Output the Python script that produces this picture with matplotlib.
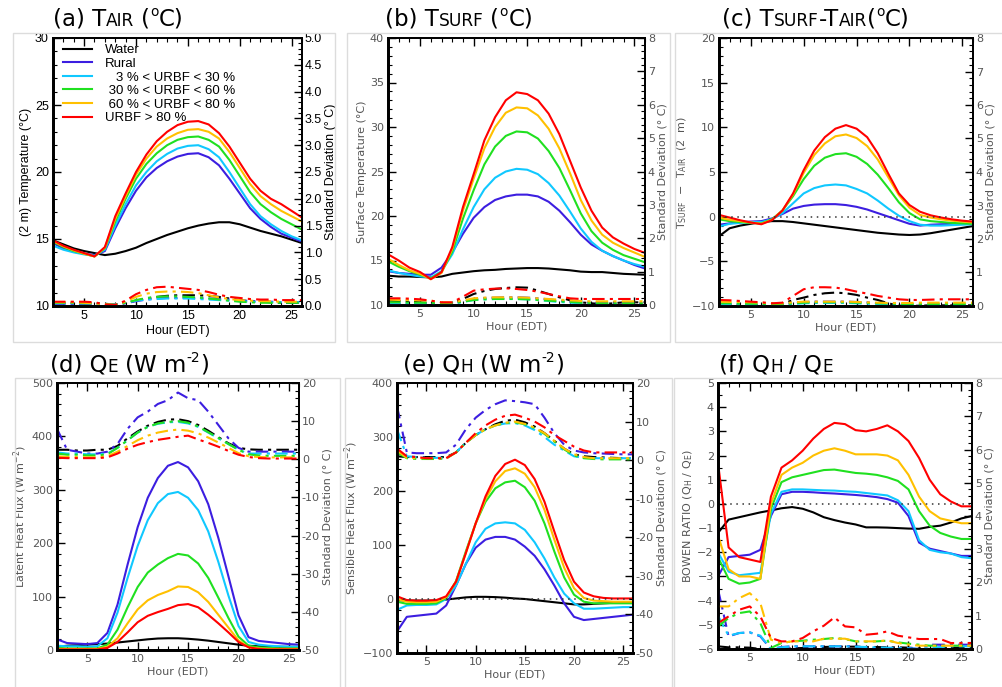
import matplotlib
matplotlib.use("Agg")
import matplotlib.pyplot as plt
from matplotlib.patches import Rectangle
from matplotlib.ticker import MultipleLocator

hours = list(range(2, 27))

# (a) 2 m air temperature: means and standard deviations
tair_water = [14.9, 14.6, 14.3, 14.1, 13.95, 13.8, 13.9, 14.1, 14.35, 14.7, 15.0, 15.3, 15.55, 15.8, 16.0, 16.15, 16.25, 16.25, 16.1, 15.85, 15.6, 15.4, 15.2, 14.95, 14.7]
tair_rural = [14.7, 14.3, 14.05, 13.9, 13.8, 14.1, 15.8, 17.3, 18.6, 19.6, 20.3, 20.8, 21.15, 21.35, 21.4, 21.1, 20.5, 19.5, 18.4, 17.3, 16.5, 15.9, 15.4, 15.1, 14.8]
tair_u1 = [14.5, 14.2, 14.0, 13.85, 13.75, 14.2, 16.0, 17.6, 19.0, 20.0, 20.8, 21.35, 21.75, 21.95, 22.0, 21.7, 21.1, 20.0, 18.8, 17.6, 16.7, 16.1, 15.6, 15.2, 14.9]
tair_u2 = [14.8, 14.4, 14.1, 13.9, 13.7, 14.3, 16.3, 18.0, 19.5, 20.6, 21.4, 22.0, 22.4, 22.6, 22.65, 22.4, 21.9, 20.9, 19.7, 18.5, 17.6, 17.0, 16.5, 16.1, 15.7]
tair_u3 = [14.85, 14.45, 14.15, 13.9, 13.7, 14.35, 16.5, 18.2, 19.8, 21.0, 21.9, 22.5, 22.9, 23.15, 23.2, 23.0, 22.5, 21.5, 20.3, 19.1, 18.2, 17.6, 17.1, 16.7, 16.3]
tair_u4 = [14.9, 14.5, 14.2, 13.95, 13.7, 14.4, 16.7, 18.4, 20.0, 21.3, 22.3, 23.0, 23.5, 23.75, 23.8, 23.55, 22.9, 21.9, 20.7, 19.5, 18.6, 18.0, 17.6, 17.1, 16.6]
tair_sd_water = [0.05, 0.05, 0.05, 0.05, 0.05, 0.04, 0.03, 0.06, 0.1, 0.14, 0.17, 0.19, 0.2, 0.2, 0.2, 0.19, 0.17, 0.14, 0.11, 0.09, 0.08, 0.07, 0.06, 0.06, 0.06]
tair_sd_rural = [0.04, 0.04, 0.04, 0.04, 0.04, 0.03, 0.02, 0.05, 0.09, 0.12, 0.14, 0.15, 0.15, 0.15, 0.15, 0.14, 0.13, 0.12, 0.1, 0.09, 0.08, 0.08, 0.07, 0.07, 0.07]
tair_sd_u1 = [0.05, 0.05, 0.05, 0.05, 0.05, 0.04, 0.03, 0.06, 0.1, 0.12, 0.13, 0.14, 0.14, 0.14, 0.13, 0.12, 0.11, 0.1, 0.09, 0.08, 0.08, 0.07, 0.07, 0.07, 0.07]
tair_sd_u2 = [0.06, 0.06, 0.06, 0.05, 0.05, 0.04, 0.02, 0.06, 0.11, 0.15, 0.17, 0.18, 0.18, 0.17, 0.16, 0.14, 0.12, 0.1, 0.08, 0.07, 0.06, 0.06, 0.06, 0.06, 0.06]
tair_sd_u3 = [0.07, 0.07, 0.07, 0.06, 0.05, 0.03, 0.02, 0.08, 0.17, 0.23, 0.26, 0.27, 0.27, 0.26, 0.24, 0.2, 0.16, 0.13, 0.11, 0.1, 0.09, 0.09, 0.08, 0.08, 0.08]
tair_sd_u4 = [0.08, 0.08, 0.08, 0.08, 0.07, 0.03, 0.02, 0.1, 0.22, 0.3, 0.35, 0.36, 0.34, 0.32, 0.3, 0.26, 0.21, 0.17, 0.15, 0.13, 0.12, 0.12, 0.11, 0.11, 0.11]

# (b) surface temperature
tsurf_water = [13.3, 13.2, 13.2, 13.15, 13.1, 13.2, 13.5, 13.65, 13.8, 13.9, 13.95, 14.05, 14.1, 14.15, 14.15, 14.1, 14.0, 13.9, 13.75, 13.7, 13.7, 13.6, 13.5, 13.45, 13.4]
tsurf_rural = [13.8, 13.6, 13.5, 13.4, 13.4, 14.2, 15.9, 18.0, 19.8, 21.0, 21.8, 22.2, 22.4, 22.4, 22.2, 21.6, 20.6, 19.3, 17.9, 16.8, 16.1, 15.5, 15.0, 14.5, 14.1]
tsurf_u1 = [13.9, 13.6, 13.4, 13.2, 13.1, 13.8, 15.7, 18.5, 21.0, 23.0, 24.3, 25.0, 25.3, 25.2, 24.7, 23.7, 22.3, 20.5, 18.6, 17.1, 16.1, 15.5, 15.0, 14.6, 14.3]
tsurf_u2 = [14.9, 14.3, 13.8, 13.4, 13.0, 13.7, 16.0, 19.7, 22.9, 25.8, 27.8, 29.0, 29.5, 29.4, 28.7, 27.3, 25.4, 22.9, 20.3, 18.3, 17.0, 16.2, 15.6, 15.2, 14.8]
tsurf_u3 = [15.2, 14.5, 13.9, 13.5, 12.9, 13.6, 16.3, 20.6, 24.2, 27.6, 30.0, 31.6, 32.2, 32.1, 31.3, 29.8, 27.6, 24.8, 21.8, 19.5, 17.9, 17.0, 16.4, 15.9, 15.4]
tsurf_u4 = [15.7, 15.0, 14.2, 13.7, 12.9, 13.7, 16.5, 21.0, 24.7, 28.5, 31.1, 33.0, 33.9, 33.7, 33.0, 31.5, 29.2, 26.2, 23.2, 20.6, 18.7, 17.6, 16.9, 16.3, 15.85]
tsurf_sd_water = [0.13, 0.12, 0.1, 0.08, 0.06, 0.03, 0.05, 0.18, 0.33, 0.42, 0.48, 0.51, 0.53, 0.52, 0.43, 0.33, 0.23, 0.14, 0.08, 0.05, 0.03, 0.05, 0.08, 0.08, 0.08]
tsurf_sd_rural = [0.03, 0.03, 0.03, 0.03, 0.03, 0.02, 0.04, 0.1, 0.18, 0.21, 0.22, 0.23, 0.23, 0.22, 0.2, 0.17, 0.13, 0.1, 0.08, 0.07, 0.06, 0.06, 0.05, 0.05, 0.05]
tsurf_sd_u1 = [0.05, 0.05, 0.05, 0.04, 0.04, 0.03, 0.04, 0.09, 0.15, 0.17, 0.18, 0.18, 0.18, 0.17, 0.15, 0.12, 0.09, 0.07, 0.05, 0.04, 0.03, 0.02, 0.02, 0.01, 0.01]
tsurf_sd_u2 = [0.08, 0.08, 0.07, 0.07, 0.06, 0.04, 0.05, 0.1, 0.15, 0.17, 0.18, 0.18, 0.18, 0.17, 0.15, 0.13, 0.11, 0.09, 0.07, 0.06, 0.05, 0.05, 0.05, 0.05, 0.05]
tsurf_sd_u3 = [0.16, 0.15, 0.15, 0.14, 0.13, 0.08, 0.08, 0.14, 0.2, 0.22, 0.23, 0.23, 0.23, 0.22, 0.2, 0.18, 0.16, 0.14, 0.12, 0.11, 0.11, 0.11, 0.11, 0.11, 0.11]
tsurf_sd_u4 = [0.2, 0.2, 0.19, 0.17, 0.13, 0.08, 0.08, 0.25, 0.43, 0.47, 0.49, 0.5, 0.48, 0.45, 0.4, 0.33, 0.26, 0.2, 0.18, 0.18, 0.18, 0.18, 0.18, 0.18, 0.18]

# (c) Tsurf - Tair
dts_water = [-2.2, -1.3, -1.0, -0.8, -0.6, -0.5, -0.5, -0.6, -0.75, -0.9, -1.05, -1.2, -1.35, -1.5, -1.65, -1.8, -1.9, -2.0, -2.05, -2.0, -1.85, -1.65, -1.45, -1.25, -1.05]
dts_rural = [-0.9, -0.75, -0.6, -0.55, -0.5, -0.2, 0.3, 0.9, 1.2, 1.35, 1.4, 1.4, 1.3, 1.1, 0.8, 0.4, 0.0, -0.4, -0.8, -1.0, -0.9, -0.85, -0.8, -0.8, -0.8]
dts_u1 = [-1.1, -0.8, -0.7, -0.6, -0.6, -0.3, 0.4, 1.5, 2.6, 3.2, 3.5, 3.6, 3.5, 3.1, 2.6, 1.8, 0.9, 0.1, -0.5, -0.9, -1.0, -1.0, -0.95, -0.9, -0.85]
dts_u2 = [-0.3, -0.5, -0.6, -0.7, -0.75, -0.3, 0.7, 2.3, 4.2, 5.7, 6.6, 7.0, 7.1, 6.7, 5.9, 4.7, 3.2, 1.6, 0.4, -0.3, -0.5, -0.6, -0.7, -0.75, -0.8]
dts_u3 = [-0.1, -0.35, -0.5, -0.65, -0.8, -0.35, 0.7, 2.5, 4.9, 6.9, 8.2, 9.0, 9.2, 8.8, 7.9, 6.4, 4.4, 2.4, 1.0, 0.2, -0.1, -0.3, -0.45, -0.55, -0.65]
dts_u4 = [0.2, -0.1, -0.4, -0.65, -0.85, -0.4, 0.7, 2.6, 5.2, 7.4, 8.9, 9.85, 10.25, 9.85, 8.9, 7.1, 4.8, 2.6, 1.3, 0.55, 0.15, -0.1, -0.3, -0.45, -0.55]
dts_sd_water = [0.05, 0.05, 0.04, 0.04, 0.03, 0.03, 0.06, 0.18, 0.25, 0.33, 0.38, 0.4, 0.38, 0.33, 0.25, 0.18, 0.08, 0.01, 0.0, 0.01, 0.02, 0.02, 0.02, 0.02, 0.02]
dts_sd_rural = [0.0, 0.0, 0.0, 0.0, 0.0, 0.0, 0.02, 0.08, 0.12, 0.13, 0.13, 0.13, 0.13, 0.12, 0.11, 0.08, 0.05, 0.02, 0.01, 0.0, 0.0, 0.0, 0.0, 0.0, 0.0]
dts_sd_u1 = [0.05, 0.05, 0.04, 0.04, 0.04, 0.03, 0.03, 0.06, 0.08, 0.09, 0.09, 0.09, 0.09, 0.08, 0.07, 0.06, 0.05, 0.04, 0.04, 0.04, 0.03, 0.03, 0.03, 0.03, 0.03]
dts_sd_u2 = [0.08, 0.08, 0.07, 0.07, 0.06, 0.05, 0.05, 0.08, 0.1, 0.11, 0.11, 0.11, 0.11, 0.1, 0.09, 0.08, 0.07, 0.06, 0.06, 0.06, 0.06, 0.06, 0.06, 0.06, 0.06]
dts_sd_u3 = [0.13, 0.12, 0.12, 0.11, 0.1, 0.08, 0.08, 0.11, 0.13, 0.13, 0.13, 0.13, 0.13, 0.12, 0.11, 0.1, 0.09, 0.09, 0.09, 0.1, 0.1, 0.1, 0.1, 0.1, 0.1]
dts_sd_u4 = [0.18, 0.17, 0.15, 0.13, 0.11, 0.08, 0.1, 0.3, 0.5, 0.56, 0.56, 0.55, 0.5, 0.43, 0.37, 0.3, 0.25, 0.2, 0.18, 0.18, 0.19, 0.2, 0.2, 0.2, 0.2]

# (d) latent heat flux
qe_water = [6, 8, 9, 10, 11, 12, 14, 16, 18, 20, 21.5, 22, 22, 21, 19.5, 17.5, 15, 12.5, 10, 8, 7, 6, 6, 6, 6]
qe_rural = [20, 13, 12, 11, 13, 32, 85, 160, 230, 285, 322, 345, 352, 342, 316, 273, 210, 138, 65, 24, 17, 15, 13, 11, 10]
qe_u1 = [8, 7, 7, 6, 7, 22, 70, 135, 195, 243, 275, 292, 296, 285, 262, 222, 165, 102, 45, 15, 10, 8, 7, 6, 6]
qe_u2 = [4, 3, 3, 3, 3, 10, 38, 80, 118, 145, 160, 172, 180, 177, 162, 135, 98, 60, 25, 8, 5, 4, 3, 3, 3]
qe_u3 = [2, 2, 2, 2, 2, 6, 22, 50, 76, 93, 103, 110, 119, 118, 108, 90, 66, 42, 18, 5, 3, 2, 2, 2, 2]
qe_u4 = [1, 1, 1, 1, 1, 4, 15, 33, 52, 64, 71, 77, 84, 86, 80, 66, 50, 33, 15, 5, 2, 1, 1, 1, 1]
qe_sd_water = [2.5, 2.5, 2.3, 2.3, 2.5, 2.5, 3.5, 5.5, 7.3, 8.8, 9.8, 10.4, 10.5, 10.0, 9.0, 7.5, 5.8, 4.2, 3.0, 2.6, 2.5, 2.5, 2.5, 2.5, 2.5]
qe_sd_rural = [8, 2.5, 2, 1.5, 1.5, 2, 4, 8, 11, 12.5, 14.5, 15.5, 17.5, 16, 15.5, 12.5, 9, 5.5, 3, 2, 2, 2, 2, 2, 2]
qe_sd_u1 = [1.8, 1.5, 1.5, 1.3, 1.3, 1.5, 3, 5, 7, 8.5, 9.3, 9.7, 9.8, 9.4, 8.5, 7, 5.5, 4, 2.5, 1.5, 1.5, 1.5, 1.5, 1.5, 1.5]
qe_sd_u2 = [1.5, 1.2, 1.2, 1.0, 1.0, 1.3, 3, 5, 7, 8.5, 9.4, 9.8, 10, 9.6, 8.6, 7.1, 5.6, 4, 2.5, 1.3, 1.0, 0.9, 0.9, 0.9, 0.9]
qe_sd_u3 = [0.8, 0.6, 0.6, 0.5, 0.5, 0.8, 2, 3.5, 5, 6.2, 7, 7.5, 7.8, 7.5, 6.8, 5.7, 4.4, 3, 1.6, 0.8, 0.6, 0.5, 0.5, 0.5, 0.5]
qe_sd_u4 = [0.4, 0.3, 0.3, 0.3, 0.3, 0.5, 1.5, 2.8, 3.8, 4.5, 5.1, 5.5, 5.9, 6.2, 5.2, 4.3, 3.3, 2.2, 1.2, 0.6, 0.3, 0.2, 0.2, 0.2, 0.2]

# (e) sensible heat flux
qh_water = [-2, -3, -3, -3, -3, -1, 1, 3, 4, 4, 3.5, 2.5, 1, 0, -2, -4, -6, -8, -10, -10, -9, -8, -7, -7, -6]
qh_rural = [-60, -33, -31, -29, -27, -12, 25, 65, 95, 110, 115, 115, 110, 97, 80, 55, 25, -8, -33, -39, -37, -35, -33, -31, -29]
qh_u1 = [-20, -12, -11, -11, -10, 0, 25, 65, 105, 130, 140, 142, 140, 128, 105, 75, 40, 10, -8, -18, -18, -17, -16, -15, -15]
qh_u2 = [-5, -9, -9, -9, -8, 2, 33, 88, 140, 180, 205, 216, 219, 207, 182, 140, 88, 40, 8, -5, -8, -8, -8, -8, -8]
qh_u3 = [0, -5, -6, -6, -5, 3, 32, 85, 140, 185, 218, 237, 242, 232, 207, 165, 110, 58, 20, 2, -3, -4, -5, -5, -5]
qh_u4 = [5, -2, -3, -3, -2, 5, 32, 85, 140, 190, 228, 250, 258, 248, 222, 180, 125, 72, 32, 12, 5, 2, 1, 1, 1]
qh_sd_water = [1.0, 0.8, 0.8, 0.8, 0.8, 0.8, 2, 4.5, 6.5, 8, 9.3, 10.2, 10.5, 9.8, 8.7, 7, 5, 3, 1.5, 1, 0.8, 0.7, 0.6, 0.5, 0.5]
qh_sd_rural = [14, 2, 1.8, 1.8, 1.8, 2, 4, 8, 11, 13, 14.5, 15.5, 15.3, 15, 14.5, 11, 7, 4, 2.5, 2, 1.8, 1.7, 1.6, 1.5, 1.5]
qh_sd_u1 = [8, 1, 0.8, 0.6, 0.6, 0.6, 2, 4.5, 6.5, 8, 9, 9.5, 9.6, 9, 7.8, 6, 4, 2.5, 1.0, 0.6, 0.5, 0.5, 0.5, 0.5, 0.5]
qh_sd_u2 = [2, 0.5, 0.3, 0.3, 0.3, 0.4, 2, 4.5, 6.5, 8, 9, 9.6, 9.8, 9.3, 8.3, 6.8, 4.8, 2.8, 1.2, 0.5, 0.3, 0.2, 0.2, 0.2, 0.2]
qh_sd_u3 = [2.5, 0.6, 0.5, 0.5, 0.5, 0.5, 2, 4.5, 6.5, 8, 9, 9.7, 10, 9.4, 8.4, 7, 5, 3, 1.5, 0.8, 0.5, 0.5, 0.5, 0.5, 0.5]
qh_sd_u4 = [3, 1, 0.8, 0.5, 0.5, 0.5, 2, 4.5, 7, 9, 10.5, 11.5, 11.8, 11, 10, 8.5, 6.5, 5, 3.5, 2.5, 2, 2, 2, 2, 2]

# (f) Bowen ratio
br_water = [-1.2, -0.65, -0.55, -0.45, -0.35, -0.27, -0.18, -0.13, -0.2, -0.35, -0.55, -0.67, -0.77, -0.85, -0.97, -0.97, -0.98, -1.0, -1.02, -1.03, -0.95, -0.9, -0.77, -0.6, -0.5]
br_rural = [-3.0, -2.2, -2.15, -2.1, -1.9, -0.5, 0.4, 0.5, 0.5, 0.48, 0.45, 0.43, 0.4, 0.37, 0.33, 0.28, 0.2, 0.05, -0.5, -1.6, -1.85, -1.95, -2.05, -2.15, -2.15]
br_u1 = [-2.0, -2.8, -2.95, -2.9, -2.85, -0.4, 0.5, 0.6, 0.6, 0.58, 0.56, 0.55, 0.52, 0.5, 0.45, 0.4, 0.35, 0.15, -0.3, -1.5, -1.9, -2.0, -2.05, -2.2, -2.25]
br_u2 = [-2.2, -3.1, -3.3, -3.25, -3.1, -0.2, 0.9, 1.1, 1.2, 1.3, 1.4, 1.42, 1.35, 1.28, 1.25, 1.2, 1.1, 0.95, 0.6, -0.3, -0.9, -1.2, -1.35, -1.45, -1.45]
br_u3 = [-1.3, -2.7, -3.0, -3.0, -3.1, 0.0, 1.2, 1.5, 1.7, 2.0, 2.2, 2.3, 2.2, 2.05, 2.05, 2.05, 2.0, 1.8, 1.2, 0.3, -0.3, -0.6, -0.7, -0.8, -0.8]
br_u4 = [1.7, -1.8, -2.2, -2.3, -2.4, 0.3, 1.5, 1.8, 2.2, 2.7, 3.1, 3.35, 3.3, 3.05, 3.0, 3.1, 3.25, 3.0, 2.6, 1.9, 1.0, 0.4, 0.1, -0.1, -0.1]
br_sd_water = [0.08, 0.05, 0.05, 0.04, 0.0, 0.0, 0.0, 0.02, 0.03, 0.05, 0.06, 0.07, 0.07, 0.07, 0.06, 0.06, 0.05, 0.05, 0.04, 0.02, 0.0, 0.02, 0.04, 0.04, 0.04]
br_sd_rural = [1.8, 0.38, 0.48, 0.5, 0.38, 0.0, 0.06, 0.08, 0.08, 0.08, 0.08, 0.08, 0.08, 0.08, 0.03, 0.03, 0.03, 0.03, 0.03, 0.0, 0.13, 0.13, 0.13, 0.13, 0.13]
br_sd_u1 = [1.0, 0.4, 0.48, 0.5, 0.4, 0.0, 0.05, 0.08, 0.08, 0.08, 0.08, 0.08, 0.08, 0.07, 0.06, 0.05, 0.04, 0.03, 0.02, 0.0, 0.03, 0.06, 0.08, 0.08, 0.08]
br_sd_u2 = [0.68, 0.93, 1.08, 1.13, 0.78, 0.03, 0.18, 0.23, 0.25, 0.28, 0.3, 0.33, 0.3, 0.23, 0.22, 0.23, 0.25, 0.2, 0.16, 0.13, 0.1, 0.1, 0.1, 0.1, 0.1]
br_sd_u3 = [1.28, 1.28, 1.53, 1.68, 1.38, 0.28, 0.18, 0.23, 0.23, 0.23, 0.31, 0.31, 0.31, 0.23, 0.23, 0.23, 0.26, 0.18, 0.13, 0.1, 0.1, 0.1, 0.1, 0.1, 0.1]
br_sd_u4 = [0.78, 0.98, 1.18, 1.28, 0.98, 0.33, 0.23, 0.23, 0.33, 0.53, 0.7, 0.95, 0.68, 0.65, 0.43, 0.46, 0.53, 0.4, 0.35, 0.3, 0.3, 0.3, 0.18, 0.18, 0.18]

colors = ["#000000", "#3c1ee0", "#10c8ff", "#20e020", "#ffc000", "#ff0000"]
labels = ["Water", "Rural", "   3 % < URBF < 30 %", " 30 % < URBF < 60 %",
          " 60 % < URBF < 80 %", "URBF > 80 %"]

W, H = 1003, 687
fig = plt.figure(figsize=(W / 100, H / 100), dpi=100)
plt.rcParams["mathtext.fontset"] = "dejavusans"


def frac(l, t, r, b):
    return [l / W, 1 - b / H, (r - l) / W, (b - t) / H]


# light grey frames around each panel
for l, t, r, b in [(13, 33, 335, 342), (347, 33, 670, 342), (675, 33, 1003, 342),
                   (15, 378, 340, 700), (345, 378, 672, 700), (674, 378, 1003, 700)]:
    fig.add_artist(Rectangle((l / W, 1 - b / H), (r - l) / W, (b - t) / H,
                             transform=fig.transFigure, fill=False,
                             ec="#dcdcdc", lw=1.0))


def draw_title(x, y, parts, size=16.5):
    rend = fig.canvas.get_renderer()
    for txt, scale, rise, gap in parts:
        t = fig.text(x / W, 1 - (y - rise * size * 100 / 72) / H, txt,
                     fontsize=size * scale, family="DejaVu Sans",
                     ha="left", va="baseline")
        x += t.get_window_extent(rend).width + gap * size * 100 / 72


sc = 0.74
panels = [
    dict(pos=frac(53, 38, 302, 306), mean=[tair_water, tair_rural, tair_u1, tair_u2, tair_u3, tair_u4],
         sd=[tair_sd_water, tair_sd_rural, tair_sd_u1, tair_sd_u2, tair_sd_u3, tair_sd_u4],
         ylim=(10, 30), ymaj=5, ymin=1, y2lim=(0, 5), y2maj=0.5, y2min=0.1, y2fmt="%.1f",
         ylabel="(2 m) Temperature (°C)", zero=False,
         title=(53, 26, [("(a) T", 1, 0, 0), ("AIR", sc, 0, 0.3), ("(", 1, 0, 0),
                         ("o", 0.6, 0.45, 0.02), ("C)", 1, 0, 0)])),
    dict(pos=frac(388, 38, 645, 305), mean=[tsurf_water, tsurf_rural, tsurf_u1, tsurf_u2, tsurf_u3, tsurf_u4],
         sd=[tsurf_sd_water, tsurf_sd_rural, tsurf_sd_u1, tsurf_sd_u2, tsurf_sd_u3, tsurf_sd_u4],
         ylim=(10, 40), ymaj=5, ymin=1, y2lim=(0, 8), y2maj=1, y2min=0.2, y2fmt="%d",
         ylabel="Surface Temperature (°C)", zero=False,
         title=(385, 26, [("(b) T", 1, 0, 0), ("SURF", sc, 0, 0.3), ("(", 1, 0, 0),
                          ("o", 0.6, 0.45, 0.02), ("C)", 1, 0, 0)])),
    dict(pos=frac(719, 38, 973, 306), mean=[dts_water, dts_rural, dts_u1, dts_u2, dts_u3, dts_u4],
         sd=[dts_sd_water, dts_sd_rural, dts_sd_u1, dts_sd_u2, dts_sd_u3, dts_sd_u4],
         ylim=(-10, 20), ymaj=5, ymin=1, y2lim=(0, 8), y2maj=1, y2min=0.2, y2fmt="%d",
         ylabel=r"T$_{\mathsf{SURF}}$  $-$  T$_{\mathsf{AIR}}$  (2  m)", zero=True,
         title=(722, 26, [("(c) T", 1, 0, 0), ("SURF", sc, 0, 0), ("-T", 1, 0, 0),
                          ("AIR", sc, 0, 0), ("(", 1, 0, 0),
                          ("o", 0.6, 0.45, 0.02), ("C)", 1, 0, 0)])),
    dict(pos=frac(57, 383, 299, 650), mean=[qe_water, qe_rural, qe_u1, qe_u2, qe_u3, qe_u4],
         sd=[qe_sd_water, qe_sd_rural, qe_sd_u1, qe_sd_u2, qe_sd_u3, qe_sd_u4],
         ylim=(0, 500), ymaj=100, ymin=20, y2lim=(-50, 20), y2maj=10, y2min=2, y2fmt="%d",
         ylabel=r"Latent Heat Flux (W m$^{-2}$)", zero=False,
         title=(50, 372, [("(d) Q", 1, 0, 0), ("E", sc, 0, 0.3), ("(W m", 1, 0, 0),
                          ("-2", 0.6, 0.45, 0.02), (")", 1, 0, 0)])),
    dict(pos=frac(397, 383, 633, 653), mean=[qh_water, qh_rural, qh_u1, qh_u2, qh_u3, qh_u4],
         sd=[qh_sd_water, qh_sd_rural, qh_sd_u1, qh_sd_u2, qh_sd_u3, qh_sd_u4],
         ylim=(-100, 400), ymaj=100, ymin=20, y2lim=(-50, 20), y2maj=10, y2min=2, y2fmt="%d",
         ylabel=r"Sensible Heat Flux (W m$^{-2}$)", zero=True,
         title=(403, 372, [("(e) Q", 1, 0, 0), ("H", sc, 0, 0.3), ("(W m", 1, 0, 0),
                           ("-2", 0.6, 0.45, 0.02), (")", 1, 0, 0)])),
    dict(pos=frac(718, 383, 972, 649), mean=[br_water, br_rural, br_u1, br_u2, br_u3, br_u4],
         sd=[br_sd_water, br_sd_rural, br_sd_u1, br_sd_u2, br_sd_u3, br_sd_u4],
         ylim=(-6, 5), ymaj=1, ymin=0.5, y2lim=(0, 8), y2maj=1, y2min=0.2, y2fmt="%d",
         ylabel=r"BOWEN RATIO (Q$_{\mathsf{H}}$ / Q$_{\mathsf{E}}$)", zero=True,
         title=(719, 372, [("(f) Q", 1, 0, 0), ("H", sc, 0, 0.3), ("/ Q", 1, 0, 0),
                           ("E", sc, 0, 0)])),
]

for i, p in enumerate(panels):
    first = i == 0
    fam = "Liberation Sans" if first else "DejaVu Sans"
    tcol = "black" if first else "#555555"
    fs = 9 if first else 8

    ax = fig.add_axes(p["pos"])
    ax2 = ax.twinx()
    for c, m, lab in zip(colors, p["mean"], labels):
        ax.plot(hours, m, color=c, lw=1.5, label=lab)
    for c, s in zip(colors, p["sd"]):
        ax2.plot(hours, s, color=c, lw=1.5, dashes=(6, 2.5, 1.5, 2.5))
    if p["zero"]:
        ax.axhline(0, color="#333333", lw=1.1, ls=(0, (1, 3)))

    ax.set_xlim(2, 26)
    ax.set_ylim(*p["ylim"])
    ax2.set_ylim(*p["y2lim"])
    ax.xaxis.set_major_locator(MultipleLocator(5))
    ax.xaxis.set_minor_locator(MultipleLocator(1))
    ax.yaxis.set_major_locator(MultipleLocator(p["ymaj"]))
    ax.yaxis.set_minor_locator(MultipleLocator(p["ymin"]))
    ax2.yaxis.set_major_locator(MultipleLocator(p["y2maj"]))
    ax2.yaxis.set_minor_locator(MultipleLocator(p["y2min"]))
    ax2.yaxis.set_major_formatter(plt.FormatStrFormatter(p["y2fmt"]))
    ax.set_xticks([5, 10, 15, 20, 25])

    ax.tick_params(which="both", direction="in", top=True, right=False,
                   labelcolor=tcol, labelsize=fs, pad=3)
    ax.tick_params(which="major", length=6, width=1)
    ax.tick_params(which="minor", length=3, width=0.8)
    ax2.tick_params(which="both", direction="in", right=True,
                    labelcolor=tcol, labelsize=fs, pad=2)
    ax2.tick_params(which="major", length=6, width=1)
    ax2.tick_params(which="minor", length=3, width=0.8)
    for a in (ax, ax2):
        for lab in a.get_xticklabels() + a.get_yticklabels():
            lab.set_family(fam)
        for sp in a.spines.values():
            sp.set_linewidth(1.3)
        a.spines["left"].set_linewidth(2)
        a.spines["bottom"].set_linewidth(2)

    ax.set_xlabel("Hour (EDT)", family=fam, fontsize=fs, color=tcol, labelpad=2)
    ax.set_ylabel(p["ylabel"], family=fam, fontsize=fs, color=tcol, labelpad=2)
    ax2.set_ylabel("Standard Deviation (° C)", family=fam, fontsize=fs,
                   color=tcol, labelpad=2)

    if first:
        ax.legend(loc="upper left", bbox_to_anchor=(0.04, 0.977), frameon=False,
                  prop={"family": "Liberation Sans", "size": 9.5},
                  handlelength=2.2, handletextpad=1.0, labelspacing=0.1,
                  borderpad=0, borderaxespad=0)

    draw_title(*p["title"])

fig.savefig("out.png", dpi=100)
